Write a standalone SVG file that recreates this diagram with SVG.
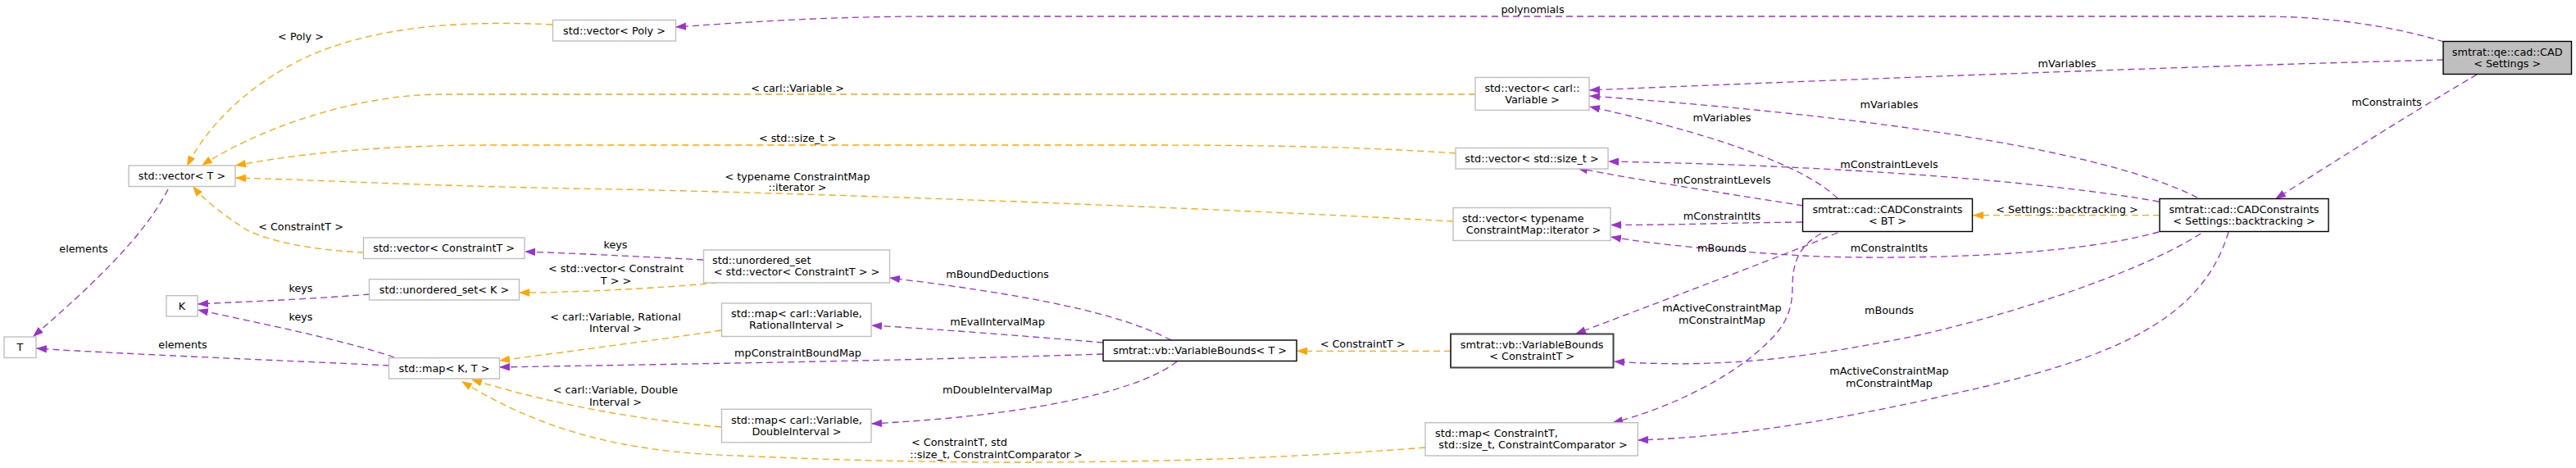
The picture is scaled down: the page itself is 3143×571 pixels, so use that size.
<svg xmlns="http://www.w3.org/2000/svg" width="3143" height="571" viewBox="0 0 3143 571">
<defs>
<style>
text{font-family:"DejaVu Sans","Liberation Sans",sans-serif;font-size:12.8px;fill:#000}
.c{text-anchor:middle}
.s{text-anchor:start}
.ng rect{fill:#fff;stroke:#bfbfbf;stroke-width:1.4}
.nb rect{fill:#fff;stroke:#000;stroke-width:1.4}
.u{fill:none;stroke:#9a32cd;stroke-width:1.3;stroke-dasharray:8 5;marker-end:url(#ap)}
.t{fill:none;stroke:#ffa500;stroke-width:1.3;stroke-dasharray:8 5;marker-end:url(#ao)}
</style>
<marker id="ap" viewBox="0 0 13 9.4" refX="13" refY="4.7" markerWidth="13" markerHeight="9.4" markerUnits="userSpaceOnUse" orient="auto"><path d="M0,0 L13,4.7 L0,9.4 z" fill="#9a32cd"/></marker>
<marker id="ao" viewBox="0 0 13 9.4" refX="13" refY="4.7" markerWidth="13" markerHeight="9.4" markerUnits="userSpaceOnUse" orient="auto"><path d="M0,0 L13,4.7 L0,9.4 z" fill="#ffa500"/></marker>
</defs>
<rect width="3143" height="571" fill="#fff"/>

<g id="edges">
<path class="u" d="M2982,51 C2920,32 2840,20 2760,20 L1140,20 C1000,20 900,28 824,33"/>
<path class="u" d="M2981,73 C2700,80 2300,95 1939,110"/>
<path class="u" d="M3022,91 C2950,133 2850,196 2776,243"/>
<path class="u" d="M2681,241 C2600,200 2400,150 1939,117"/>
<path class="u" d="M2242,242 C2210,210 2120,170 1939,130"/>
<path class="u" d="M2634,246 C2500,222 2250,202 1962,197"/>
<path class="u" d="M2200,251 C2100,235 2000,220 1924,205"/>
<path class="u" d="M2199,271 C2100,272 2050,274.5 1965,274.5"/>
<path class="u" d="M2634,283 C2500,320 2250,315 2200,312 C2100,306 2020,298 1965,289"/>
<path class="t" d="M2635,262.7 L2407,262.7"/>
<path class="u" d="M2242,284 C2180,310 2060,355 1922,407.5"/>
<path class="u" d="M2685,285 C2600,340 2400,400 2300,417 C2200,436 2100,450 1969,441"/>
<path class="u" d="M2222,285 C2195,300 2187,320 2187,350 C2187,390 2170,410 2127,443 C2090,470 2030,500 1967,516"/>
<path class="u" d="M2719,283 C2690,380 2600,430 2420,472 C2300,500 2150,532 1998,537"/>
<path class="t" d="M1770,428.3 L1582,428.3"/>
<path class="u" d="M1429,415 C1380,390 1300,365 1085,339"/>
<path class="u" d="M1346,418 C1250,410 1150,402 1063,397"/>
<path class="u" d="M1346,432 C1100,440 900,443 609,448"/>
<path class="u" d="M1436,441 C1400,470 1290,505 1063,517"/>
<path class="t" d="M1739,546 C1500,565 1200,570 900,556 C760,552 660,525 563,465"/>
<path class="t" d="M880,521 C780,512 680,495 575,463"/>
<path class="t" d="M880,403 C800,415 700,428 609,440"/>
<path class="u" d="M481,436 C420,415 320,395 241,378"/>
<path class="u" d="M475,446 C350,440 150,432 44,425"/>
<path class="u" d="M451,359 C380,365 300,368 241,371"/>
<path class="t" d="M875,345 C800,352 700,357 633,357"/>
<path class="u" d="M858,317 C780,313 700,309 640,307"/>
<path class="t" d="M444,308 C380,305 330,295 300,280 C270,260 250,245 235,227"/>
<path class="u" d="M205,231 C175,290 110,350 40,411"/>
<path class="t" d="M674,30 C550,24 450,35 373,70 C320,95 260,140 228,203"/>
<path class="t" d="M1800,115 L540,115 C430,115 310,160 246,202"/>
<path class="t" d="M1776,187 C1650,178 1500,177 1400,177 L600,177 C450,177 350,190 287,202"/>
<path class="t" d="M1773,270 C1500,255 1000,235 700,230 C500,226 400,220 287,217"/>

<text class="c" x="1870" y="15.5">polynomials</text>
<text class="c" x="2522" y="81.5">mVariables</text>
<text class="c" x="2912" y="128.5">mConstraints</text>
<text class="c" x="2305" y="132">mVariables</text>
<text class="c" x="2101" y="148">mVariables</text>
<text class="c" x="2305" y="204.5">mConstraintLevels</text>
<text class="c" x="2101" y="223.5">mConstraintLevels</text>
<text class="c" x="2101" y="267.8">mConstraintIts</text>
<text class="c" x="2522" y="259.5">&lt; Settings::backtracking &gt;</text>
<text class="c" x="2101" y="306.8">mBounds</text>
<text class="c" x="2305" y="306.8">mConstraintIts</text>
<text class="c" x="2101" y="380.2">mActiveConstraintMap</text>
<text class="c" x="2101" y="395.2">mConstraintMap</text>
<text class="c" x="2305" y="382.8">mBounds</text>
<text class="c" x="2305" y="456.8">mActiveConstraintMap</text>
<text class="c" x="2305" y="471.8">mConstraintMap</text>
<text class="c" x="1662.5" y="423.8">&lt; ConstraintT &gt;</text>
<text class="c" x="1217" y="338.8">mBoundDeductions</text>
<text class="c" x="1217" y="397.2">mEvalIntervalMap</text>
<text class="c" x="973.5" y="435.2">mpConstraintBoundMap</text>
<text class="c" x="1217" y="480.2">mDoubleIntervalMap</text>
<text class="s" x="1112" y="543.8">&lt; ConstraintT, std</text>
<text class="c" x="1215.5" y="558.8">::size_t, ConstraintComparator &gt;</text>
<text class="c" x="367" y="48.8">&lt; Poly &gt;</text>
<text class="c" x="973" y="111.5">&lt; carl::Variable &gt;</text>
<text class="c" x="973" y="172.5">&lt; std::size_t &gt;</text>
<text class="c" x="973" y="219.5">&lt; typename ConstraintMap</text>
<text class="c" x="973" y="233.2">::iterator &gt;</text>
<text class="c" x="367" y="280.5">&lt; ConstraintT &gt;</text>
<text class="c" x="102" y="307.8">elements</text>
<text class="c" x="751" y="302.8">keys</text>
<text class="c" x="751.5" y="332.2">&lt; std::vector&lt; Constraint</text>
<text class="c" x="751.5" y="346.8">T &gt; &gt;</text>
<text class="c" x="367" y="356.2">keys</text>
<text class="c" x="367" y="391.2">keys</text>
<text class="c" x="751" y="390.5">&lt; carl::Variable, Rational</text>
<text class="c" x="751" y="404.5">Interval &gt;</text>
<text class="c" x="223" y="425.2">elements</text>
<text class="c" x="751" y="479.5">&lt; carl::Variable, Double</text>
<text class="c" x="751" y="494.5">Interval &gt;</text>
</g>

<g id="n_cad"><rect x="2981" y="50.5" width="156.5" height="40" fill="#bfbfbf" stroke="#000" stroke-width="1.4"/><text class="c" x="3059.2" y="67.8">smtrat::qe::cad::CAD</text><text class="c" x="3059.2" y="81.8">&lt; Settings &gt;</text></g>
<g id="n_vpoly" class="ng"><rect x="674.5" y="24.5" width="150" height="25.5"/><text class="c" x="749.5" y="41.8">std::vector&lt; Poly &gt;</text></g>
<g id="n_vT" class="ng"><rect x="157" y="202" width="130" height="25.5"/><text class="c" x="222" y="219.3">std::vector&lt; T &gt;</text></g>
<g id="n_vcarl" class="ng"><rect x="1800" y="94.5" width="139" height="40"/><text class="c" x="1869.5" y="111.8">std::vector&lt; carl::</text><text class="c" x="1869.5" y="125.8">Variable &gt;</text></g>
<g id="n_vsize" class="ng"><rect x="1776" y="180.5" width="186" height="25.5"/><text class="c" x="1869" y="197.8">std::vector&lt; std::size_t &gt;</text></g>
<g id="n_vtypename" class="ng"><rect x="1773" y="253.5" width="192" height="40"/><text class="s" x="1784" y="270.8">std::vector&lt; typename</text><text class="c" x="1871" y="284.8">ConstraintMap::iterator &gt;</text></g>
<g id="n_cadcBT" class="nb"><rect x="2199.5" y="242.5" width="207" height="40"/><text class="c" x="2303" y="259.8">smtrat::cad::CADConstraints</text><text class="c" x="2303" y="273.8">&lt; BT &gt;</text></g>
<g id="n_cadcSB" class="nb"><rect x="2635" y="242.5" width="206" height="40"/><text class="c" x="2738" y="259.8">smtrat::cad::CADConstraints</text><text class="c" x="2738" y="273.8">&lt; Settings::backtracking &gt;</text></g>
<g id="n_vbCT"><rect x="1770" y="407.5" width="198.5" height="41" fill="#fff" stroke="#404040" stroke-width="2"/><text class="c" x="1869.2" y="424.8">smtrat::vb::VariableBounds</text><text class="c" x="1869.2" y="438.8">&lt; ConstraintT &gt;</text></g>
<g id="n_vbT" class="nb"><rect x="1346" y="415" width="236" height="25.5"/><text class="c" x="1464" y="432.3">smtrat::vb::VariableBounds&lt; T &gt;</text></g>
<g id="n_uset_vct" class="ng"><rect x="858.5" y="305" width="227" height="40"/><text class="s" x="869" y="322.3">std::unordered_set</text><text class="c" x="972" y="336.3">&lt; std::vector&lt; ConstraintT &gt; &gt;</text></g>
<g id="n_map_rat" class="ng"><rect x="880.5" y="370" width="182.5" height="40.5"/><text class="c" x="972" y="387.3">std::map&lt; carl::Variable,</text><text class="c" x="972" y="401.3">RationalInterval &gt;</text></g>
<g id="n_map_dbl" class="ng"><rect x="880.5" y="499.3" width="182.5" height="40.5"/><text class="c" x="972" y="516.6">std::map&lt; carl::Variable,</text><text class="c" x="972" y="530.6">DoubleInterval &gt;</text></g>
<g id="n_map_ct" class="ng"><rect x="1739" y="515.7" width="259.3" height="40.3"/><text class="s" x="1751" y="533">std::map&lt; ConstraintT,</text><text class="c" x="1870.5" y="547">std::size_t, ConstraintComparator &gt;</text></g>
<g id="n_vct" class="ng"><rect x="443.5" y="290" width="196.5" height="25.5"/><text class="c" x="541.7" y="307.3">std::vector&lt; ConstraintT &gt;</text></g>
<g id="n_usetK" class="ng"><rect x="450.5" y="340.7" width="183" height="25.3"/><text class="c" x="542" y="358">std::unordered_set&lt; K &gt;</text></g>
<g id="n_K" class="ng"><rect x="203" y="360.7" width="38" height="25.3"/><text class="c" x="222" y="378">K</text></g>
<g id="n_T" class="ng"><rect x="5" y="411" width="39" height="25.5"/><text class="c" x="24.5" y="428.3">T</text></g>
<g id="n_mapKT" class="ng"><rect x="474.5" y="436.7" width="135" height="25.3"/><text class="c" x="542" y="454">std::map&lt; K, T &gt;</text></g>
</svg>
